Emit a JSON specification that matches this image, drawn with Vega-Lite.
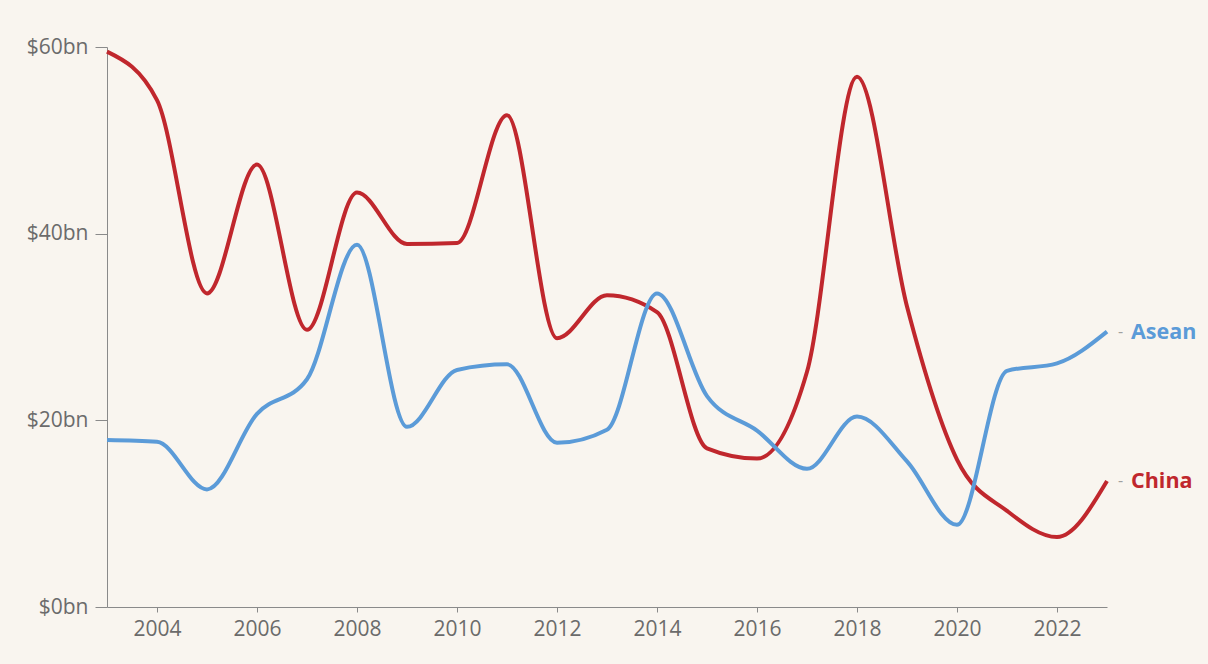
{
  "$schema": "https://vega.github.io/schema/vega-lite/v6.json",
  "width": 1000,
  "height": 560,
  "autosize": {"type": "none"},
  "padding": {"left": 107, "top": 47, "right": 101, "bottom": 57},
  "background": "#f9f5ef",
  "config": {
    "view": {"stroke": null},
    "font": "Open Sans",
    "axis": {"labelFont": "Open Sans", "labelColor": "#6b6b6b", "labelFontSize": 21, "domainColor": "#8a8a8a", "tickColor": "#8a8a8a", "grid": false, "title": null}
  },
  "data": {
    "values": [
      {"year": 2003, "country": "China", "value": 59.5},
      {"year": 2004, "country": "China", "value": 54.3},
      {"year": 2005, "country": "China", "value": 33.6},
      {"year": 2006, "country": "China", "value": 47.4},
      {"year": 2007, "country": "China", "value": 29.7},
      {"year": 2008, "country": "China", "value": 44.4},
      {"year": 2009, "country": "China", "value": 38.9},
      {"year": 2010, "country": "China", "value": 39.0},
      {"year": 2011, "country": "China", "value": 52.7},
      {"year": 2012, "country": "China", "value": 28.8},
      {"year": 2013, "country": "China", "value": 33.4},
      {"year": 2014, "country": "China", "value": 31.6},
      {"year": 2015, "country": "China", "value": 17.0},
      {"year": 2016, "country": "China", "value": 15.9},
      {"year": 2017, "country": "China", "value": 25.2},
      {"year": 2018, "country": "China", "value": 56.8},
      {"year": 2019, "country": "China", "value": 32.2},
      {"year": 2020, "country": "China", "value": 15.8},
      {"year": 2021, "country": "China", "value": 10.3},
      {"year": 2022, "country": "China", "value": 7.5},
      {"year": 2023, "country": "China", "value": 13.5},
      {"year": 2003, "country": "Asean", "value": 17.9},
      {"year": 2004, "country": "Asean", "value": 17.7},
      {"year": 2005, "country": "Asean", "value": 12.6},
      {"year": 2006, "country": "Asean", "value": 20.7},
      {"year": 2007, "country": "Asean", "value": 24.4},
      {"year": 2008, "country": "Asean", "value": 38.8},
      {"year": 2009, "country": "Asean", "value": 19.3},
      {"year": 2010, "country": "Asean", "value": 25.4},
      {"year": 2011, "country": "Asean", "value": 26.0},
      {"year": 2012, "country": "Asean", "value": 17.6},
      {"year": 2013, "country": "Asean", "value": 19.0},
      {"year": 2014, "country": "Asean", "value": 33.6},
      {"year": 2015, "country": "Asean", "value": 22.6},
      {"year": 2016, "country": "Asean", "value": 18.9},
      {"year": 2017, "country": "Asean", "value": 14.8},
      {"year": 2018, "country": "Asean", "value": 20.4},
      {"year": 2019, "country": "Asean", "value": 15.6},
      {"year": 2020, "country": "Asean", "value": 8.8},
      {"year": 2021, "country": "Asean", "value": 25.3},
      {"year": 2022, "country": "Asean", "value": 26.1},
      {"year": 2023, "country": "Asean", "value": 29.5}
    ]
  },
  "encoding": {
    "x": {
      "field": "year", "type": "quantitative",
      "scale": {"domain": [2003, 2023], "nice": false, "zero": false},
      "axis": {"values": [2004, 2006, 2008, 2010, 2012, 2014, 2016, 2018, 2020, 2022], "format": "d", "tickSize": 5, "labelPadding": 6}
    },
    "y": {
      "field": "value", "type": "quantitative",
      "scale": {"domain": [0, 60], "nice": false},
      "axis": {"values": [0, 20, 40, 60], "labelExpr": "'$' + datum.value + 'bn'", "tickSize": 12, "labelPadding": 7}
    },
    "color": {
      "field": "country", "type": "nominal",
      "scale": {"domain": ["Asean", "China"], "range": ["#5b9bd8", "#c0272d"]},
      "legend": null
    }
  },
  "layer": [
    {
      "mark": {"type": "line", "interpolate": "monotone", "strokeWidth": 4}
    },
    {
      "transform": [{"filter": "datum.year == 2023"}],
      "mark": {"type": "text", "text": "-", "align": "left", "baseline": "middle", "dx": 11, "fontSize": 16},
      "encoding": {"color": {"value": "#a0a0a0"}}
    },
    {
      "transform": [{"filter": "datum.year == 2023"}],
      "mark": {"type": "text", "align": "left", "baseline": "middle", "dx": 24, "dy": 1, "fontSize": 21.5, "fontWeight": "bold"},
      "encoding": {"text": {"field": "country"}}
    }
  ]
}
